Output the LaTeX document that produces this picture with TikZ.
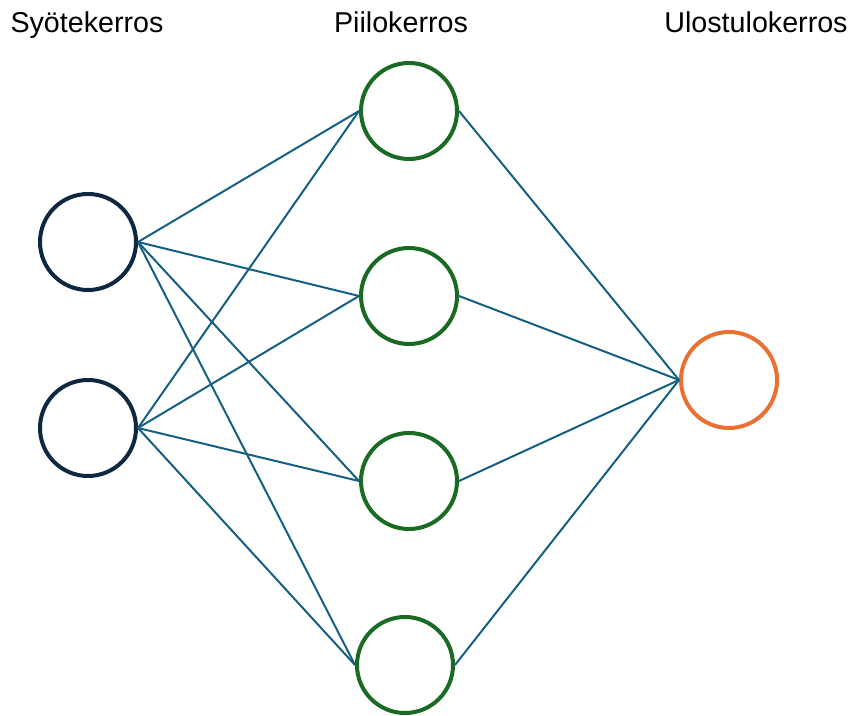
\documentclass[tikz,border=0pt]{standalone}
\usepackage{fontspec}
\setmainfont{Liberation Sans}
\definecolor{inputc}{HTML}{0E2841}
\definecolor{hiddenc}{HTML}{196B24}
\definecolor{outputc}{HTML}{E97132}
\definecolor{linkc}{HTML}{156082}
\begin{document}
\begin{tikzpicture}[x=0.75pt,y=-0.75pt,
  neuron/.style={circle,minimum size=72pt,inner sep=0pt,line width=3pt,draw,fill=white},
  innode/.style={neuron,draw=inputc},
  hidnode/.style={neuron,draw=hiddenc},
  outnode/.style={neuron,draw=outputc},
  link/.style={draw=linkc,line width=1.5pt},
  layerlabel/.style={anchor=base,font=\fontsize{21.5pt}{26pt}\selectfont,inner sep=0pt}]
\useasboundingbox (0,0) rectangle (854,716);
% layer titles
\node[layerlabel] (tin) at (87,33) {Syötekerros};
\node[layerlabel] (thid) at (401,33) {Piilokerros};
\node[layerlabel] (tout) at (756,33) {Ulostulokerros};
% neurons
\node[innode] (i1) at (88,242) {};
\node[innode] (i2) at (88,428) {};
\node[hidnode] (h1) at (409,111) {};
\node[hidnode] (h2) at (409,296) {};
\node[hidnode] (h3) at (409,481) {};
\node[hidnode] (h4) at (405,665) {};
\node[outnode] (o1) at (729,380) {};
% connections: every input to every hidden neuron, every hidden neuron to the output
\foreach \i in {i1,i2}
  \foreach \h in {h1,h2,h3,h4}
    \draw[link] (\i.east) -- (\h.west);
\foreach \h in {h1,h2,h3,h4}
  \draw[link] (\h.east) -- (o1.west);
\end{tikzpicture}
\end{document}
